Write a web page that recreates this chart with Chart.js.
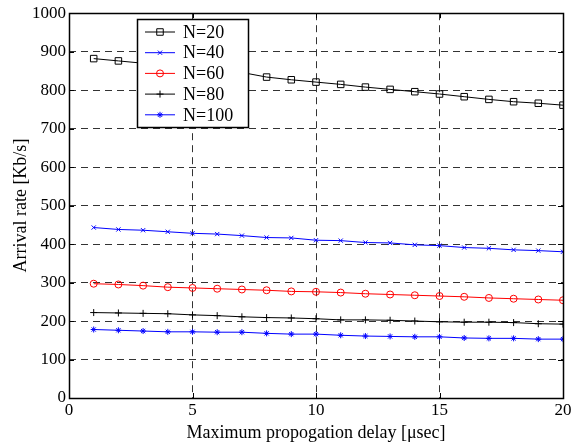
<!DOCTYPE html>
<html>
<head>
<meta charset="utf-8">
<script src="https://cdn.jsdelivr.net/npm/chart.js@4/dist/chart.umd.min.js"></script>
<style>
  html, body { margin: 0; padding: 0; background: #fff; }
  #wrap { width: 585px; height: 444px; }
</style>
</head>
<body>
<div id="wrap"><canvas id="chart" width="585" height="444"></canvas></div>
<script>
// propagation delay (usec)
const delays = [1, 2, 3, 4, 5, 6, 7, 8, 9, 10, 11, 12, 13, 14, 15, 16, 17, 18, 19, 20];

// arrival rate (Kb/s) per number of stations
const n20  = [882, 876, 870, 864, 858, 852, 846, 834, 827, 821, 815, 808, 802, 796, 790, 783, 776, 770, 766, 761];
const n40  = [443, 438, 436, 432, 428, 426, 422, 417, 416, 410, 409, 404, 403, 398, 396, 391, 389, 385, 383, 380];
const n60  = [297, 295, 292, 288, 286, 284, 282, 280, 277, 276, 274, 271, 269, 267, 265, 263, 260, 258, 256, 254];
const n80  = [222, 221, 220, 219, 216, 214, 211, 209, 208, 206, 203, 203, 202, 200, 198, 197, 197, 196, 193, 192];
const n100 = [178, 176, 174, 172, 172, 171, 171, 168, 166, 166, 163, 161, 160, 159, 159, 156, 155, 155, 153, 153];

const seriesLabels = ['N=20', 'N=40', 'N=60', 'N=80', 'N=100'];
const xTicks = [0, 5, 10, 15, 20];
const yTicks = [0, 100, 200, 300, 400, 500, 600, 700, 800, 900, 1000];

const FONT = "'Liberation Serif', 'Times New Roman', serif";

function pts(arr) {
  return arr.map((v, i) => ({x: delays[i], y: v}));
}

function ds(label, arr, color, style, radius) {
  return {
    label: label,
    data: pts(arr),
    borderColor: color,
    backgroundColor: 'rgba(0,0,0,0)',
    pointBorderColor: color,
    pointBackgroundColor: 'rgba(0,0,0,0)',
    pointStyle: style,
    pointRadius: radius,
    pointBorderWidth: 1,
    borderWidth: 1,
    tension: 0
  };
}

// frame, inward tick marks and the boxed legend
const framePlugin = {
  id: 'frame',
  afterDraw(chart) {
    const {ctx, chartArea: a, scales} = chart;
    ctx.save();
    ctx.strokeStyle = '#000';
    ctx.lineWidth = 1;
    ctx.setLineDash([]);
    ctx.beginPath();
    xTicks.forEach(t => {
      const px = Math.round(scales.x.getPixelForValue(t)) + 0.5;
      ctx.moveTo(px, a.bottom); ctx.lineTo(px, a.bottom - 5);
      ctx.moveTo(px, a.top); ctx.lineTo(px, a.top + 5);
    });
    yTicks.forEach(t => {
      const py = Math.round(scales.y.getPixelForValue(t)) + 0.5;
      ctx.moveTo(a.left, py); ctx.lineTo(a.left + 5, py);
      ctx.moveTo(a.right, py); ctx.lineTo(a.right - 5, py);
    });
    ctx.stroke();
    ctx.lineWidth = 1.5;
    ctx.strokeRect(Math.round(a.left) + 0.5, Math.round(a.top) + 0.5,
      Math.round(a.right - a.left), Math.round(a.bottom - a.top));

    // legend
    const bx = 137, by = 19, bw = 111, bh = 108;
    ctx.fillStyle = '#fff';
    ctx.fillRect(bx, by, bw, bh);
    ctx.lineWidth = 1.5;
    ctx.strokeStyle = '#000';
    ctx.strokeRect(bx + 0.5, by + 0.5, bw, bh);
    ctx.font = '18px ' + FONT;
    ctx.textBaseline = 'middle';
    chart.data.datasets.forEach((d, i) => {
      const y = by + 13 + i * 20.7;
      ctx.strokeStyle = d.borderColor;
      ctx.lineWidth = 1;
      ctx.beginPath();
      ctx.moveTo(bx + 8, y); ctx.lineTo(bx + 38, y);
      ctx.stroke();
      ctx.fillStyle = 'rgba(0,0,0,0)';
      Chart.helpers.drawPoint(ctx, {
        pointStyle: d.pointStyle, radius: d.pointRadius, borderWidth: 1, rotation: 0
      }, bx + 23, y);
      ctx.fillStyle = '#000';
      ctx.fillText(d.label, bx + 46, y + 1);
    });
    ctx.restore();
  }
};

const gridDash = {
  color: '#333',
  lineWidth: 1,
  drawTicks: false
};

new Chart(document.getElementById('chart'), {
  type: 'line',
  data: {
    datasets: [
      ds(seriesLabels[0], n20, '#000', 'rect', 4.6),
      ds(seriesLabels[1], n40, '#0000ff', 'crossRot', 3),
      ds(seriesLabels[2], n60, '#ff0000', 'circle', 3.5),
      ds(seriesLabels[3], n80, '#000', 'cross', 3.5),
      ds(seriesLabels[4], n100, '#0000ff', 'star', 3)
    ]
  },
  options: {
    responsive: false,
    animation: false,
    layout: {padding: {left: 0, right: 22, top: 9, bottom: 0}},
    plugins: {
      legend: {display: false},
      tooltip: {enabled: false}
    },
    scales: {
      x: {
        type: 'linear',
        min: 0,
        max: 20,
        afterBuildTicks: (s) => { s.ticks = xTicks.map(v => ({value: v})); },
        ticks: {color: '#000', font: {family: FONT, size: 17}, padding: 2, maxRotation: 0,
          callback: (v) => String(v)},
        grid: gridDash,
        border: {display: false, dash: [7, 5]},
        title: {display: true, text: 'Maximum propogation delay [\u03bcsec]', color: '#000',
          font: {family: FONT, size: 18}, padding: {top: 0, bottom: 0}},
        afterFit: (s) => { s.height = 46; }
      },
      y: {
        type: 'linear',
        min: 0,
        max: 1000,
        afterBuildTicks: (s) => { s.ticks = yTicks.map(v => ({value: v})); },
        ticks: {color: '#000', font: {family: FONT, size: 17}, padding: 3,
          callback: (v) => String(v)},
        grid: gridDash,
        border: {display: false, dash: [7, 5]},
        title: {display: true, text: 'Arrival rate [Kb/s]', color: '#000',
          font: {family: FONT, size: 18}, padding: {top: 10, bottom: 4}},
        afterFit: (s) => { s.width = 69; }
      }
    }
  },
  plugins: [framePlugin]
});
</script>
</body>
</html>
